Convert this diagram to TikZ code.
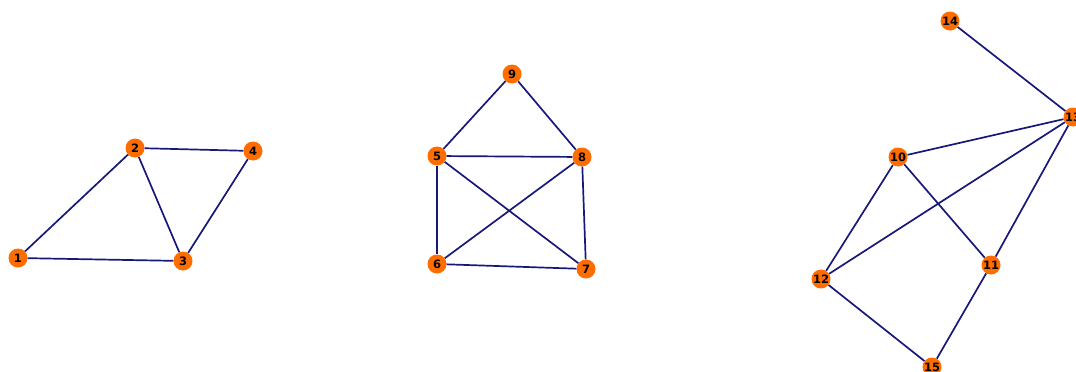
\documentclass[tikz,border=0pt]{standalone}
\usepackage{fontspec}
\setsansfont{DejaVu Sans}
\definecolor{vertexorange}{RGB}{255,108,0}
\definecolor{edgenavy}{RGB}{24,24,120}

\begin{document}
\begin{tikzpicture}[x=1pt,y=-1pt,
    vertex/.style={circle,fill=vertexorange,inner sep=0pt,minimum size=19pt,
      font=\sffamily\bfseries\fontsize{11.5}{12}\selectfont},
    link/.style={draw=edgenavy,line width=1.7pt}]
  \useasboundingbox (0,0) rectangle (1076,372);
  % first component
  \node[vertex] (n1) at (18,258) {1};
  \node[vertex] (n2) at (135,148) {2};
  \node[vertex] (n3) at (183,261) {3};
  \node[vertex] (n4) at (253,151) {4};
  % second component
  \node[vertex] (n5) at (437,156) {5};
  \node[vertex] (n6) at (437,264) {6};
  \node[vertex] (n7) at (586,269) {7};
  \node[vertex] (n8) at (582,157) {8};
  \node[vertex] (n9) at (512,74) {9};
  % third component
  \node[vertex] (n10) at (898,157) {10};
  \node[vertex] (n11) at (991,265) {11};
  \node[vertex] (n12) at (821,279) {12};
  \node[vertex] (n13) at (1073,117) {13};
  \node[vertex] (n14) at (950,21) {14};
  \node[vertex] (n15) at (932,367) {15};
  \foreach \a/\b in {1/2,1/3,2/3,2/4,3/4,5/9,9/8,5/8,5/6,5/7,6/8,6/7,8/7,
                     14/13,10/13,12/13,11/13,10/12,10/11,12/15,11/15} {
    \path[link] (n\a) -- (n\b);
  }
\end{tikzpicture}
\end{document}
